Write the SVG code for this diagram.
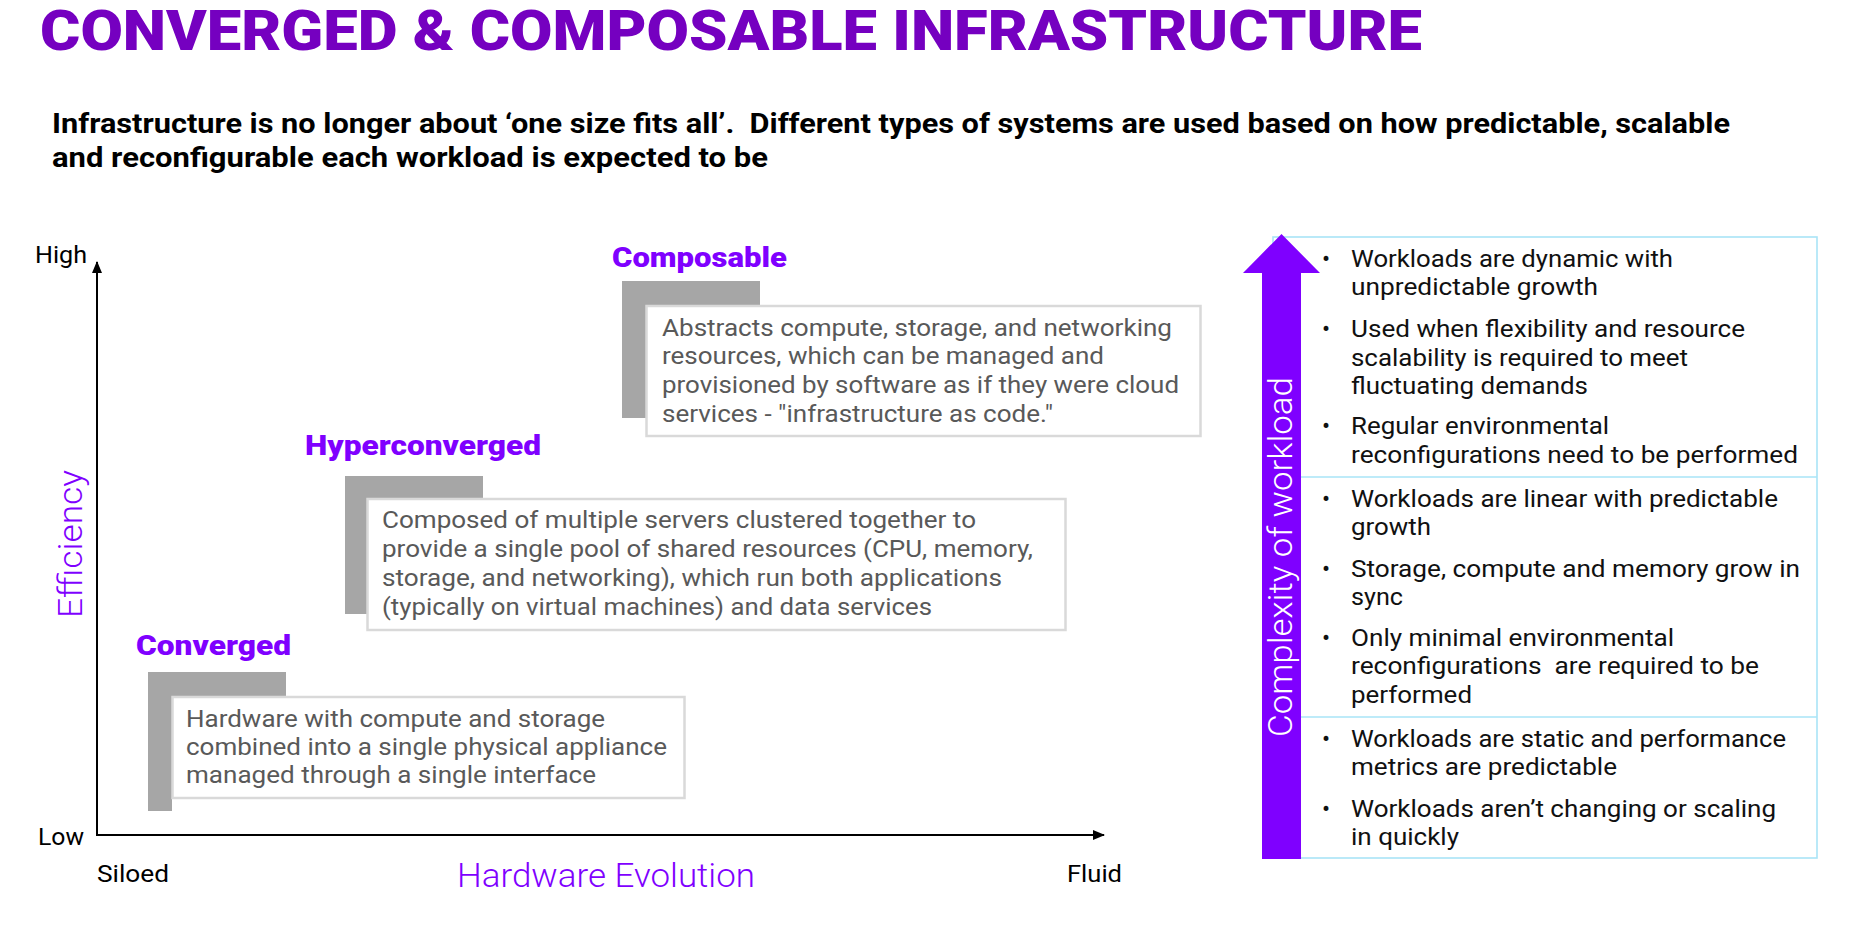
<svg xmlns="http://www.w3.org/2000/svg" width="1851" height="951" viewBox="0 0 1851 951">
  <defs>
    <style>
      .title { font-family: Roboto, "Liberation Sans", Arial, sans-serif; font-weight: 900; font-size: 55px; fill: #7500C0; }
      .sub { font-family: Roboto, "Liberation Sans", Arial, sans-serif; font-weight: 700; font-size: 27px; fill: #000000; white-space: pre; }
      .lbl { font-family: Roboto, "Liberation Sans", Arial, sans-serif; font-weight: 900; font-size: 28px; fill: #7F00FF; }
      .axis { font-family: Roboto, "Liberation Sans", Arial, sans-serif; font-weight: 400; font-size: 23px; fill: #000000; }
      .axtitle { font-family: Roboto, "Liberation Sans", Arial, sans-serif; font-weight: 300; font-size: 34px; fill: #7F00FF; }
      .body { font-family: Roboto, "Liberation Sans", Arial, sans-serif; font-weight: 400; font-size: 24px; fill: #595959; }
      .pt { font-family: Roboto, "Liberation Sans", Arial, sans-serif; font-weight: 400; font-size: 24px; fill: #111111; white-space: pre; }
      .bar { fill: #A6A6A6; }
      .card { fill: #FFFFFF; stroke: #D9D9D9; stroke-width: 2.5; }
      .axisline { stroke: #000000; stroke-width: 2; fill: none; }
      .panel { fill: none; stroke: #A9E4F7; stroke-width: 1.6; }
    </style>
    <marker id="tip" viewBox="0 0 12 12" refX="11" refY="6" markerWidth="12" markerHeight="12" markerUnits="userSpaceOnUse" orient="auto">
      <path d="M0,1 L12,6 L0,11 Z" fill="#000000"/>
    </marker>
  </defs>

  <rect width="1851" height="951" fill="#FFFFFF"/>

  <!-- heading -->
  <g id="heading">
    <text class="title" x="40" y="50" textLength="1382" lengthAdjust="spacingAndGlyphs">CONVERGED &amp; COMPOSABLE INFRASTRUCTURE</text>
    <text class="sub" x="52" y="133" textLength="1678" lengthAdjust="spacingAndGlyphs">Infrastructure is no longer about ‘one size fits all’.  Different types of systems are used based on how predictable, scalable</text>
    <text class="sub" x="52" y="167" textLength="716" lengthAdjust="spacingAndGlyphs">and reconfigurable each workload is expected to be</text>
  </g>

  <!-- chart axes -->
  <g id="connectors">
    <line class="axisline" x1="97" y1="836" x2="97" y2="262" marker-end="url(#tip)"/>
    <line class="axisline" x1="96" y1="835" x2="1104" y2="835" marker-end="url(#tip)"/>
  </g>

  <g id="axis-labels">
    <text class="axis" x="35" y="263" textLength="52" lengthAdjust="spacingAndGlyphs">High</text>
    <text class="axis" x="38" y="845" textLength="46" lengthAdjust="spacingAndGlyphs">Low</text>
    <text class="axis" x="97" y="882" textLength="72" lengthAdjust="spacingAndGlyphs">Siloed</text>
    <text class="axis" x="1067" y="882" textLength="55" lengthAdjust="spacingAndGlyphs">Fluid</text>
    <text class="axtitle" x="457" y="887" textLength="298" lengthAdjust="spacingAndGlyphs">Hardware Evolution</text>
    <text class="axtitle" transform="translate(82,544) rotate(-90)" text-anchor="middle" textLength="148" lengthAdjust="spacingAndGlyphs">Efficiency</text>
  </g>

  <!-- converged -->
  <g id="node-converged">
    <text class="lbl" x="136" y="655" textLength="155" lengthAdjust="spacingAndGlyphs">Converged</text>
    <path class="bar" d="M148,672 H286 V696 H172 V811 H148 Z"/>
    <rect class="card" x="172.5" y="697" width="512" height="101"/>
    <text class="body" x="186" y="727" textLength="419" lengthAdjust="spacingAndGlyphs">Hardware with compute and storage</text>
    <text class="body" x="186" y="755" textLength="481" lengthAdjust="spacingAndGlyphs">combined into a single physical appliance</text>
    <text class="body" x="186" y="783" textLength="410" lengthAdjust="spacingAndGlyphs">managed through a single interface</text>
  </g>

  <!-- hyperconverged -->
  <g id="node-hyperconverged">
    <text class="lbl" x="305" y="455" textLength="236" lengthAdjust="spacingAndGlyphs">Hyperconverged</text>
    <path class="bar" d="M345,476 H483 V498 H367 V614 H345 Z"/>
    <rect class="card" x="367.5" y="499" width="698" height="131"/>
    <text class="body" x="382" y="528" textLength="594" lengthAdjust="spacingAndGlyphs">Composed of multiple servers clustered together to</text>
    <text class="body" x="382" y="557" textLength="651" lengthAdjust="spacingAndGlyphs">provide a single pool of shared resources (CPU, memory,</text>
    <text class="body" x="382" y="586" textLength="620" lengthAdjust="spacingAndGlyphs">storage, and networking), which run both applications</text>
    <text class="body" x="382" y="615" textLength="550" lengthAdjust="spacingAndGlyphs">(typically on virtual machines) and data services</text>
  </g>

  <!-- composable -->
  <g id="node-composable">
    <text class="lbl" x="612" y="267" textLength="175" lengthAdjust="spacingAndGlyphs">Composable</text>
    <path class="bar" d="M622,281 H760 V305 H646 V418 H622 Z"/>
    <rect class="card" x="646.5" y="306" width="554" height="130"/>
    <text class="body" x="662" y="336" textLength="510" lengthAdjust="spacingAndGlyphs">Abstracts compute, storage, and networking</text>
    <text class="body" x="662" y="364" textLength="442" lengthAdjust="spacingAndGlyphs">resources, which can be managed and</text>
    <text class="body" x="662" y="393" textLength="517" lengthAdjust="spacingAndGlyphs">provisioned by software as if they were cloud</text>
    <text class="body" x="662" y="422" textLength="391" lengthAdjust="spacingAndGlyphs">services - "infrastructure as code."</text>
  </g>

  <!-- workload panel -->
  <g id="node-workload-panel">
    <rect class="panel" x="1273" y="237" width="544" height="621"/>
    <line class="panel" x1="1301" y1="477" x2="1817" y2="477"/>
    <line class="panel" x1="1301" y1="717" x2="1817" y2="717"/>
    <polygon points="1281.5,234 1320,273 1301,273 1301,859 1262,859 1262,273 1243,273" fill="#7F00FF"/>
    <text transform="translate(1292,557) rotate(-90)" text-anchor="middle" font-family="Roboto, 'Liberation Sans', Arial, sans-serif" font-weight="300" font-size="34" fill="#FFFFFF" textLength="360" lengthAdjust="spacingAndGlyphs">Complexity of workload</text>
  </g>

  <g id="node-composable-traits">
    <text class="pt" x="1322" y="267">•</text>
    <text class="pt" x="1351" y="267" textLength="322" lengthAdjust="spacingAndGlyphs">Workloads are dynamic with</text>
    <text class="pt" x="1351" y="295" textLength="247" lengthAdjust="spacingAndGlyphs">unpredictable growth</text>
    <text class="pt" x="1322" y="337">•</text>
    <text class="pt" x="1351" y="337" textLength="394" lengthAdjust="spacingAndGlyphs">Used when flexibility and resource</text>
    <text class="pt" x="1351" y="366" textLength="337" lengthAdjust="spacingAndGlyphs">scalability is required to meet</text>
    <text class="pt" x="1351" y="394" textLength="237" lengthAdjust="spacingAndGlyphs">fluctuating demands</text>
    <text class="pt" x="1322" y="434">•</text>
    <text class="pt" x="1351" y="434" textLength="258" lengthAdjust="spacingAndGlyphs">Regular environmental</text>
    <text class="pt" x="1351" y="463" textLength="447" lengthAdjust="spacingAndGlyphs">reconfigurations need to be performed</text>
  </g>

  <g id="node-hyperconverged-traits">
    <text class="pt" x="1322" y="507">•</text>
    <text class="pt" x="1351" y="507" textLength="427" lengthAdjust="spacingAndGlyphs">Workloads are linear with predictable</text>
    <text class="pt" x="1351" y="535" textLength="80" lengthAdjust="spacingAndGlyphs">growth</text>
    <text class="pt" x="1322" y="577">•</text>
    <text class="pt" x="1351" y="577" textLength="449" lengthAdjust="spacingAndGlyphs">Storage, compute and memory grow in</text>
    <text class="pt" x="1351" y="605" textLength="52" lengthAdjust="spacingAndGlyphs">sync</text>
    <text class="pt" x="1322" y="646">•</text>
    <text class="pt" x="1351" y="646" textLength="323" lengthAdjust="spacingAndGlyphs">Only minimal environmental</text>
    <text class="pt" x="1351" y="674" textLength="408" lengthAdjust="spacingAndGlyphs">reconfigurations  are required to be</text>
    <text class="pt" x="1351" y="703" textLength="121" lengthAdjust="spacingAndGlyphs">performed</text>
  </g>

  <g id="node-converged-traits">
    <text class="pt" x="1322" y="747">•</text>
    <text class="pt" x="1351" y="747" textLength="435" lengthAdjust="spacingAndGlyphs">Workloads are static and performance</text>
    <text class="pt" x="1351" y="775" textLength="266" lengthAdjust="spacingAndGlyphs">metrics are predictable</text>
    <text class="pt" x="1322" y="817">•</text>
    <text class="pt" x="1351" y="817" textLength="425" lengthAdjust="spacingAndGlyphs">Workloads aren’t changing or scaling</text>
    <text class="pt" x="1351" y="845" textLength="108" lengthAdjust="spacingAndGlyphs">in quickly</text>
  </g>
</svg>
